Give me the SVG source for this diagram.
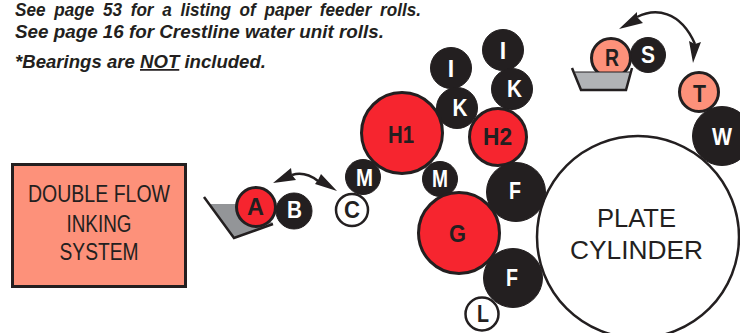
<svg xmlns="http://www.w3.org/2000/svg" width="740" height="333" viewBox="0 0 740 333">
<style>
text{font-family:"Liberation Sans",Arial,sans-serif;text-anchor:middle}
.note{font-size:17.5px;font-weight:bold;font-style:italic;text-anchor:start;fill:#231f20}
.d{fill:#231f20;stroke:#231f20;stroke-width:1}
.r{fill:#f6252f;stroke:#231f20;stroke-width:3}
.s{fill:#fd917a;stroke:#231f20;stroke-width:3}
.w{fill:#fff;stroke:#231f20;stroke-width:2.5}
.lw{fill:#fff;font-weight:bold;font-size:23px}
.lk{fill:#231f20;font-weight:bold;font-size:23px}
.big{fill:#231f20;font-size:26.500px}
.sys{fill:#231f20;font-size:23.500px}
.tray{stroke:#231f20;stroke-width:2.5;fill:none}
.arc{fill:none;stroke:#231f20;stroke-width:2.5}
.hd{fill:#231f20}
</style>
<rect width="740" height="333" fill="#fff"/>
<g id="notes">
<text class="note" x="15" y="16" textLength="406" lengthAdjust="spacingAndGlyphs" word-spacing="4">See page 53 for a listing of paper feeder rolls.</text>
<text class="note" x="15" y="38" textLength="369" lengthAdjust="spacingAndGlyphs">See page 16 for Crestline water unit rolls.</text>
<text class="note" x="15" y="68" textLength="251" lengthAdjust="spacingAndGlyphs">*Bearings are <tspan text-decoration="underline">NOT</tspan> included.</text>
</g>
<g id="system-box">
<rect x="12.500" y="164.500" width="173" height="122" fill="#fd917a" stroke="#231f20" stroke-width="3"/>
<text class="sys" x="99" y="202" textLength="142" lengthAdjust="spacingAndGlyphs">DOUBLE FLOW</text>
<text class="sys" x="99" y="232" textLength="65" lengthAdjust="spacingAndGlyphs">INKING</text>
<text class="sys" x="99" y="260" textLength="79" lengthAdjust="spacingAndGlyphs">SYSTEM</text>
</g>
<g id="plate"><circle cx="638" cy="237" r="101" fill="#fff" stroke="#231f20" stroke-width="2.500"/><text class="big" x="636.500" y="227" textLength="79" lengthAdjust="spacingAndGlyphs">PLATE</text><text class="big" x="636.500" y="259" textLength="133" lengthAdjust="spacingAndGlyphs">CYLINDER</text></g>
<g id="tray-a"><polygon points="210,204 236,204 273,223 234,238" fill="#939598"/><polyline class="tray" points="204,197 234,238 273,224"/></g>
<g id="roller-b"><circle class="d" cx="294" cy="211" r="18"/><text class="lw" x="294.500" y="218" textLength="15" lengthAdjust="spacingAndGlyphs">B</text></g>
<g id="roller-a"><circle class="r" cx="256" cy="207" r="19.500"/><text class="lk" x="255.500" y="215" textLength="17" lengthAdjust="spacingAndGlyphs">A</text></g>
<g id="roller-c"><circle class="w" cx="352" cy="210" r="16"/><text class="lk" x="352" y="218" textLength="16" lengthAdjust="spacingAndGlyphs">C</text></g>
<g id="roller-m1"><circle class="d" cx="363" cy="177" r="17.500"/><text class="lw" x="364.500" y="186" textLength="17" lengthAdjust="spacingAndGlyphs">M</text></g>
<g id="roller-m2"><circle class="d" cx="440" cy="179" r="17.500"/><text class="lw" x="440" y="187" textLength="16" lengthAdjust="spacingAndGlyphs">M</text></g>
<g id="roller-i1"><circle class="d" cx="451" cy="68" r="20.500"/><text class="lw" x="451" y="77">I</text></g>
<g id="roller-i2"><circle class="d" cx="503" cy="50" r="20.500"/><text class="lw" x="503" y="59">I</text></g>
<g id="roller-k1"><circle class="d" cx="457" cy="108" r="20.500"/><text class="lw" x="460" y="116" textLength="15" lengthAdjust="spacingAndGlyphs">K</text></g>
<g id="roller-k2"><circle class="d" cx="512" cy="89" r="20.500"/><text class="lw" x="514.500" y="97" textLength="15" lengthAdjust="spacingAndGlyphs">K</text></g>
<g id="roller-h1"><circle class="r" cx="402" cy="133" r="40.500"/><text class="lk" x="401" y="143" textLength="26" lengthAdjust="spacingAndGlyphs">H1</text></g>
<g id="roller-h2"><circle class="r" cx="498" cy="137" r="28.500"/><text class="lk" x="497.500" y="145" textLength="29" lengthAdjust="spacingAndGlyphs">H2</text></g>
<g id="roller-f1"><circle class="d" cx="516" cy="192" r="29.500"/><text class="lw" x="515" y="199" textLength="12" lengthAdjust="spacingAndGlyphs">F</text></g>
<g id="roller-f2"><circle class="d" cx="513" cy="278" r="29.500"/><text class="lw" x="512" y="286" textLength="12" lengthAdjust="spacingAndGlyphs">F</text></g>
<g id="roller-g"><circle class="r" cx="459" cy="233" r="40.500"/><text class="lk" x="457.500" y="242" textLength="17" lengthAdjust="spacingAndGlyphs">G</text></g>
<g id="roller-l"><circle class="w" cx="482" cy="314" r="16.500"/><text class="lk" x="483" y="322" textLength="12" lengthAdjust="spacingAndGlyphs">L</text></g>
<g id="roller-s"><circle class="d" cx="648" cy="55" r="17.500"/><text class="lw" x="648" y="63" textLength="14" lengthAdjust="spacingAndGlyphs">S</text></g>
<g id="roller-r"><circle class="s" cx="611" cy="58" r="19.500"/><text class="lk" x="612" y="66" textLength="14" lengthAdjust="spacingAndGlyphs">R</text></g>
<g id="tray-r"><polygon points="575,72 631,72 626,90 581,90" fill="#b1b3b6"/><line x1="575" y1="72" x2="631" y2="72" stroke="#231f20" stroke-width="1"/><polyline class="tray" points="572,68 581,90 626,90 632,68"/></g>
<g id="roller-w"><circle class="d" cx="722" cy="136" r="29.500"/><text class="lw" x="722" y="145" textLength="20" lengthAdjust="spacingAndGlyphs">W</text></g>
<g id="roller-t"><circle class="s" cx="699" cy="92" r="19.500"/><text class="lk" x="699.500" y="102" textLength="13" lengthAdjust="spacingAndGlyphs">T</text></g>
<g id="connectors">
<path class="arc" d="M292,175 Q305,171 318,181"/>
<polygon class="hd" points="273,183 291,168 292,175 296,180"/>
<polygon class="hd" points="337,191 321,174 318,180 315,184"/>
<path class="arc" d="M637,17 C655,8 680,10 695,44"/>
<polygon class="hd" points="619,29 637,12 637,17 643,23"/>
<polygon class="hd" points="693,63 689,41 695,44 701,42"/>
</g>
</svg>
